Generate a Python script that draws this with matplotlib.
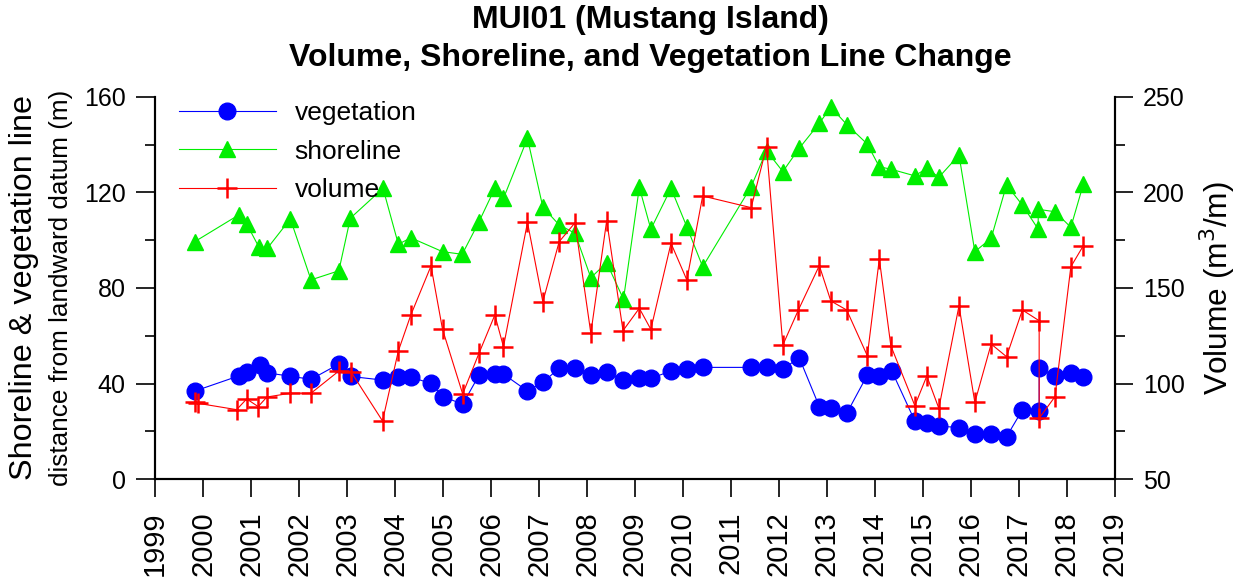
import matplotlib
matplotlib.use("Agg")
import matplotlib.pyplot as plt
from matplotlib.ticker import MultipleLocator

plt.rcParams['font.family'] = ['Liberation Sans', 'DejaVu Sans']

# survey dates (decimal years) and positions, metres from landward datum
veg_year = [1999.83, 2000.74, 2000.91, 2001.18, 2001.34, 2001.82, 2002.25, 2002.83, 2003.08,
            2003.74, 2004.07, 2004.33, 2004.75, 2005.01, 2005.41, 2005.75, 2006.08, 2006.26,
            2006.76, 2007.08, 2007.42, 2007.75, 2008.08, 2008.41, 2008.76, 2009.09, 2009.33,
            2009.75, 2010.08, 2010.41, 2011.42, 2011.74, 2012.08, 2012.42, 2012.84, 2013.08,
            2013.42, 2013.84, 2014.09, 2014.35, 2014.83, 2015.08, 2015.33, 2015.75, 2016.08,
            2016.42, 2016.74, 2017.07, 2017.42, 2017.42, 2017.75, 2018.08, 2018.34]
vegetation = [36.9, 43.2, 44.8, 47.8, 44.5, 43.1, 41.8, 48.2, 43.0,
              41.5, 42.7, 42.7, 40.1, 34.5, 31.4, 43.5, 44.0, 44.0,
              36.9, 40.6, 46.4, 46.4, 43.6, 44.7, 41.5, 42.2, 42.2,
              45.3, 46.0, 46.8, 46.8, 46.8, 46.0, 50.9, 30.4, 29.7,
              27.9, 43.6, 43.3, 45.3, 24.4, 23.4, 22.3, 21.6, 18.8,
              18.8, 17.8, 29.0, 28.7, 46.4, 43.3, 44.3, 42.9]

shore_year = [1999.83, 2000.74, 2000.91, 2001.16, 2001.34, 2001.82, 2002.25, 2002.83, 2003.07,
              2003.75, 2004.07, 2004.33, 2004.99, 2005.40, 2005.75, 2006.08, 2006.26, 2006.76,
              2007.08, 2007.42, 2007.75, 2008.08, 2008.41, 2008.76, 2009.09, 2009.33, 2009.75,
              2010.08, 2010.41, 2011.42, 2011.74, 2012.08, 2012.42, 2012.84, 2013.08, 2013.42,
              2013.84, 2014.09, 2014.33, 2014.83, 2015.08, 2015.33, 2015.75, 2016.08, 2016.42,
              2016.74, 2017.07, 2017.40, 2017.40, 2017.75, 2018.08, 2018.34]
shoreline = [99.4, 110.5, 106.8, 97.3, 96.6, 108.9, 83.4, 87.2, 109.2,
             121.7, 98.3, 101.0, 95.2, 94.1, 107.7, 121.7, 117.5, 142.6,
             113.8, 106.4, 102.9, 84.3, 90.6, 75.3, 122.1, 104.6, 121.7,
             105.6, 88.9, 122.4, 137.4, 128.7, 138.4, 148.9, 155.6, 148.2,
             140.2, 130.7, 129.7, 126.9, 130.1, 126.3, 135.6, 95.2, 100.8,
             123.1, 114.7, 104.6, 112.9, 111.9, 105.4, 123.4]

# beach volume, m^3/m
vol_year = [1999.83, 1999.90, 2000.70, 2000.91, 2001.15, 2001.33, 2001.82, 2002.25, 2002.83,
            2003.08, 2003.74, 2004.07, 2004.33, 2004.75, 2004.99, 2005.41, 2005.75, 2006.08,
            2006.26, 2006.76, 2007.08, 2007.42, 2007.75, 2008.08, 2008.41, 2008.75, 2009.09,
            2009.33, 2009.75, 2010.08, 2010.41, 2011.42, 2011.74, 2012.08, 2012.40, 2012.84,
            2013.08, 2013.41, 2013.84, 2014.09, 2014.33, 2014.83, 2015.08, 2015.33, 2015.75,
            2016.08, 2016.42, 2016.74, 2017.07, 2017.42, 2017.42, 2017.75, 2018.08, 2018.34]
volume = [90.6, 89.7, 86.4, 92.0, 88.0, 93.0, 95.0, 95.0, 106.6,
          106.3, 80.5, 117.1, 135.9, 161.5, 128.4, 94.6, 115.9, 135.9,
          119.3, 184.3, 142.8, 174.2, 184.1, 126.3, 185.2, 127.7, 139.4,
          128.4, 173.4, 154.2, 198.1, 192.0, 223.9, 120.2, 138.3, 161.7,
          143.2, 138.5, 114.6, 165.2, 119.8, 88.5, 104.0, 87.1, 140.7,
          90.2, 120.7, 114.1, 138.5, 132.9, 81.9, 93.2, 161.1, 172.1]

year_ticks = list(range(1999, 2020))

fig = plt.figure(figsize=(12.44, 5.84), dpi=100)
ax = fig.add_axes([0.1246, 0.1793, 0.7717, 0.6551])
ax2 = ax.twinx()

l1, = ax.plot(veg_year, vegetation, color='blue', lw=0.8, marker='o', ms=12,
              mec='blue', mfc='blue', label='vegetation')
l2, = ax.plot(shore_year, shoreline, color='#00ee00', lw=0.8, marker='^', ms=12,
              mec='#00ee00', mfc='#00ee00', label='shoreline')
l3, = ax2.plot(vol_year, volume, color='red', lw=0.8, marker='+', ms=15, mew=1.8,
               label='volume')

ax.set_xlim(1999, 2019)
ax.set_ylim(0, 160)
ax2.set_ylim(50, 250)
ax.set_xticks(year_ticks)
ax.set_xticklabels([str(y) for y in year_ticks], rotation=90, fontsize=21)
ax.yaxis.set_major_locator(MultipleLocator(40))
ax.yaxis.set_minor_locator(MultipleLocator(20))
ax2.yaxis.set_major_locator(MultipleLocator(50))
ax2.yaxis.set_minor_locator(MultipleLocator(25))

for a in (ax, ax2):
    a.spines['top'].set_visible(False)
    for s in a.spines.values():
        s.set_linewidth(1.5)
ax.tick_params(axis='x', length=13, width=1.2, pad=10)
ax.tick_params(axis='y', which='major', length=14, width=1.2, pad=7, labelsize=18)
ax.tick_params(axis='y', which='minor', length=7, width=1.2)
ax2.tick_params(axis='y', which='major', length=13, width=1.2, pad=7, labelsize=18)
ax2.tick_params(axis='y', which='minor', length=7, width=1.2)

# two-line left axis title, drawn as separate texts
ax.text(-0.1365, 0.5, 'Shoreline & vegetation line', transform=ax.transAxes,
        rotation=90, ha='center', va='center', fontsize=23.3)
ax.text(-0.098, 0.5, 'distance from landward datum (m)', transform=ax.transAxes,
        rotation=90, ha='center', va='center', fontsize=18.8)
ax2.text(1.106, 0.5, 'Volume (m$^3$/m)', transform=ax.transAxes,
         rotation=90, ha='center', va='center', fontsize=22.8)

fig.text(0.5225, 0.965, 'MUI01 (Mustang Island)', ha='center', va='center',
         fontsize=23, fontweight='bold')
fig.text(0.5225, 0.9, 'Volume, Shoreline, and Vegetation Line Change', ha='center',
         va='center', fontsize=23, fontweight='bold')

ax2.legend(handles=[l1, l2, l3], loc='upper left', frameon=False, fontsize=19,
           handlelength=3.7, handletextpad=0.7, labelspacing=0.55,
           borderaxespad=0.2, bbox_to_anchor=(0.008, 1.03))

fig.savefig('out.png', dpi=100)
